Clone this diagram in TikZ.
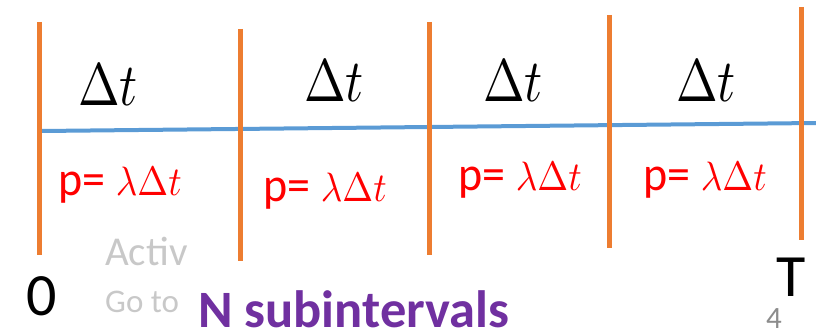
\documentclass[tikz,border=0pt]{standalone}
\usepackage{fontspec}
\setmainfont{Carlito}
\definecolor{tickorange}{HTML}{ED7D31}
\definecolor{axisblue}{HTML}{5B9BD5}
\definecolor{nviolet}{HTML}{7030A0}
\definecolor{wmgray}{HTML}{C8C8C8}
\definecolor{numgray}{HTML}{8C8C8C}
\newcommand{\bigdt}{\scalebox{5}[6]{\fontsize{10}{12}\selectfont$\Delta t$}}
\newcommand{\lamdt}{\scalebox{3.7}[4.1]{\fontsize{10}{12}\selectfont$\lambda\Delta t$}}
\newcommand{\pexpr}{\scalebox{1}[1.05]{p=} \lamdt}
\tikzset{
  tickline/.style={draw=tickorange, line width=5pt},
  axisline/.style={draw=axisblue, line width=4pt},
  dtlabel/.style={anchor=base, inner sep=0pt},
  plabel/.style={anchor=base, inner sep=0pt, text=red, font=\fontsize{46}{54}\selectfont},
  endlabel/.style={anchor=base, inner sep=0pt, font=\fontsize{60}{72}\selectfont},
}
\begin{document}
\begin{tikzpicture}[x=1pt,y=-1pt]
\useasboundingbox (0,0) rectangle (816,331);
% time axis
\coordinate (a0) at (42,131);
\coordinate (a1) at (816,123);
\draw[axisline] (a0) -- (a1);
% subinterval boundaries
\coordinate (t1a) at (39,22);  \coordinate (t1b) at (39,255);
\coordinate (t2a) at (240,29); \coordinate (t2b) at (240,261);
\coordinate (t3a) at (429,22); \coordinate (t3b) at (429,255);
\coordinate (t4a) at (609,15); \coordinate (t4b) at (609,248);
\coordinate (t5a) at (801,7);  \coordinate (t5b) at (801,240);
\draw[tickline] (t1a) -- (t1b);
\draw[tickline] (t2a) -- (t2b);
\draw[tickline] (t3a) -- (t3b);
\draw[tickline] (t4a) -- (t4b);
\draw[tickline] (t5a) -- (t5b);
% Delta t labels
\node[dtlabel] (d1) at (108,106) {\bigdt};
\node[dtlabel] (d2) at (334,102) {\bigdt};
\node[dtlabel] (d3) at (513,102) {\bigdt};
\node[dtlabel] (d4) at (706,102) {\bigdt};
% probability labels
\node[plabel] (p1) at (120,196) {\pexpr};
\node[plabel] (p2) at (325,201) {\pexpr};
\node[plabel] (p3) at (520,190) {\pexpr};
\node[plabel] (p4) at (705,190) {\pexpr};
% end labels
\node[endlabel] (zero) at (42,315) {0};
\node[endlabel] (tend) at (791,296) {T};
% watermark texts
\node[anchor=base west, inner sep=0pt, text=wmgray, font=\fontsize{41}{48}\selectfont] (wm1) at (105,265) {Activ};
\node[anchor=base west, inner sep=0pt, text=wmgray, font=\fontsize{33}{38}\selectfont] (wm2) at (105,312) {Go to};
% caption
\node[anchor=base west, inner sep=0pt, text=nviolet, font=\fontsize{52.5}{60}\selectfont\bfseries] (cap) at (198,327) {N subintervals};
% slide number
\node[anchor=base, inner sep=0pt, text=numgray, font=\fontsize{31}{37}\selectfont] (num) at (774,328) {4};
\end{tikzpicture}
\end{document}
